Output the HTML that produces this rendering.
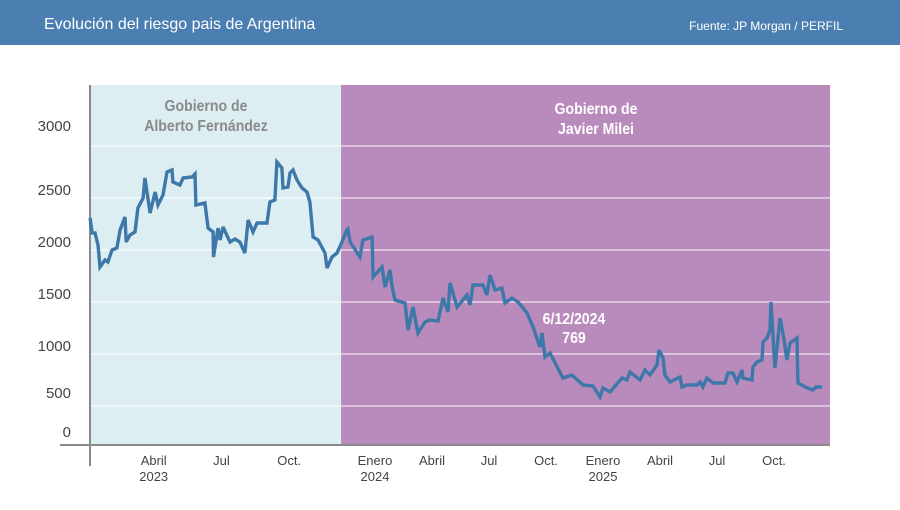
<!DOCTYPE html>
<html><head><meta charset="utf-8"><style>
html,body{margin:0;padding:0;background:#fff;}
body{width:900px;height:505px;overflow:hidden;font-family:"Liberation Sans",sans-serif;}
</style></head><body>
<svg id="c" width="900" height="505" xmlns="http://www.w3.org/2000/svg">
<rect x="0" y="0" width="900" height="45" fill="#4b7fb1"/>
<text x="44" y="29" fill="#fff" font-size="16">Evolución del riesgo pais de Argentina</text>
<text x="843" y="30" fill="#fff" font-size="12" text-anchor="end">Fuente: JP Morgan / PERFIL</text>
<g id="plot"></g>
</svg>
<script>
const monthIdx=[0.18,0.27,0.40,0.53,0.62,0.84,0.97,1.15,1.37,1.51,1.73,1.78,1.95,2.17,2.30,2.53,2.61,2.84,3.06,3.19,3.41,3.59,3.81,3.85,4.16,4.30,4.70,4.83,4.87,5.27,5.41,5.63,5.65,5.85,5.94,6.07,6.38,6.60,6.82,7.04,7.18,7.40,7.58,8.02,8.15,8.37,8.46,8.68,8.73,8.95,9.04,9.17,9.35,9.57,9.79,9.92,10.06,10.28,10.59,10.68,10.90,11.12,11.32,11.42,11.44,11.49,11.69,11.75,11.94,11.96,12.37,12.53,12.79,12.89,13.05,13.58,13.74,14.00,14.26,14.63,14.89,15.32,15.58,15.84,15.95,16.32,16.84,17.00,17.16,17.68,17.89,18.05,18.32,18.68,18.84,19.21,19.53,20.00,20.32,20.68,20.79,20.95,21.21,21.89,22.37,22.95,23.47,23.84,24.00,24.37,25.00,25.26,25.42,25.95,26.21,26.47,26.84,26.95,27.16,27.26,27.53,28.05,28.16,28.42,28.95,29.11,29.26,29.47,29.79,30.42,30.58,30.84,31.05,31.32,31.37,31.84,31.89,32.11,32.37,32.42,32.63,32.79,32.84,33.05,33.32,33.53,33.68,33.84,34.21,34.26,34.74,35.05,35.21,35.53];
const riesgo=[2308,2164,2164,2048,1837,1904,1885,2000,2019,2192,2317,2077,2144,2173,2404,2500,2692,2356,2558,2433,2529,2750,2769,2654,2625,2692,2702,2731,2433,2452,2211,2173,1933,2211,2096,2221,2077,2106,2077,1971,2288,2173,2260,2260,2461,2481,2846,2788,2596,2606,2740,2769,2673,2596,2558,2461,2125,2096,1971,1827,1933,1971,2077,2192,2202,2077,1933,2096,2125,1740,1837,1644,1808,1663,1519,1490,1231,1452,1202,1308,1327,1317,1538,1404,1683,1452,1567,1471,1663,1663,1567,1760,1615,1635,1490,1538,1500,1394,1260,1067,1202,971,1010,769,798,702,692,587,673,635,769,750,827,750,846,798,894,1038,962,798,731,779,683,702,702,731,683,769,721,721,817,817,731,846,769,750,875,923,942,1115,1154,1231,1500,865,1346,1135,942,1106,1154,721,673,654,683,683];
const yTicks=[0,500,1000,1500,2000,2500,3000];
const gridVals=[500,1000,1500,2000,2500,3000];
const xTickLabels=[["Abril","2023"],["Jul",""],["Oct.",""],["Enero","2024"],["Abril",""],["Jul",""],["Oct.",""],["Enero","2025"],["Abril",""],["Jul",""],["Oct.",""]];
const xTickMonths=[3,6,9,12,15,18,21,24,27,30,33];
const mileiStart=11.3;

const NS="http://www.w3.org/2000/svg";
const g=document.getElementById('plot');
function el(t,a,p){const e=document.createElementNS(NS,t);for(const k in a)e.setAttribute(k,a[k]);(p||g).appendChild(e);return e;}
function x(m){ if(m<=11.3) return 86+m*22.57; if(m<=12) return 341+(m-11.3)/0.7*34; return 375+(m-12)*19; }
function y(v){ return 406-(v-500)*52/500; }
const L=90,R=830,T=85,B=445;

let r=el('rect',{x:L,y:T,width:x(mileiStart)-L,height:B-T,fill:'#ddeef3'});


r=el('rect',{x:x(mileiStart),y:T,width:R-x(mileiStart),height:B-T,fill:'#b98bbd'});



gridVals.forEach(v=>{
  const ln=el('line',{x1:L,x2:R,y1:y(v),y2:y(v),stroke:'#fff','stroke-opacity':0.75,'stroke-width':1.2});
  
  
});
yTicks.forEach(v=>{
  let by=y(v)-3;
  if(v>=3000) by=y(v)-15;
  if(v<=0) by=437;
  if(v===500) by=y(v)-8;
  const t=el('text',{x:71,y:by,'text-anchor':'end','font-size':15,fill:'#444'});
  t.textContent=v;
  
  
});
xTickMonths.forEach((m,i)=>{
  const t=el('text',{x:x(m),y:465,'text-anchor':'middle','font-size':13,fill:'#444'});
  t.textContent=xTickLabels[i][0];
  
  
  if(xTickLabels[i][1]){
    const t2=el('text',{x:x(m),y:481,'text-anchor':'middle','font-size':13,fill:'#444'});
    t2.textContent=xTickLabels[i][1];
    
    
  }
});

let a=el('line',{x1:90,x2:90,y1:T,y2:466,stroke:'#8a8a8a','stroke-width':2});


a=el('line',{x1:60,x2:R,y1:B,y2:B,stroke:'#8a8a8a','stroke-width':2});



let d='';
monthIdx.forEach((m,i)=>{d+=(i?'L':'M')+x(m).toFixed(1)+' '+y(riesgo[i]).toFixed(1);});
const p=el('path',{d:d,fill:'none',stroke:'#3d78a9','stroke-width':3.4,'stroke-linejoin':'miter','stroke-miterlimit':3});



function lab(txt,xx,yy,col,name){
  const t=el('text',{x:xx,y:yy,'text-anchor':'middle','font-size':16,'font-weight':'bold',fill:col,transform:'translate('+xx+' 0) scale(0.88 1) translate('+(-xx)+' 0)'});
  t.textContent=txt;
  
  
}
lab('Gobierno de',206,111,'#8a8a8a','fernandez-label-line1');
lab('Alberto Fernández',206,131,'#8a8a8a','fernandez-label-line2');
lab('Gobierno de',596,114,'#fff','milei-label-line1');
lab('Javier Milei',596,134,'#fff','milei-label-line2');
lab('6/12/2024',574,324,'#fff','annotation-date');
lab('769',574,343,'#fff','annotation-value');
</script>
</body></html>
